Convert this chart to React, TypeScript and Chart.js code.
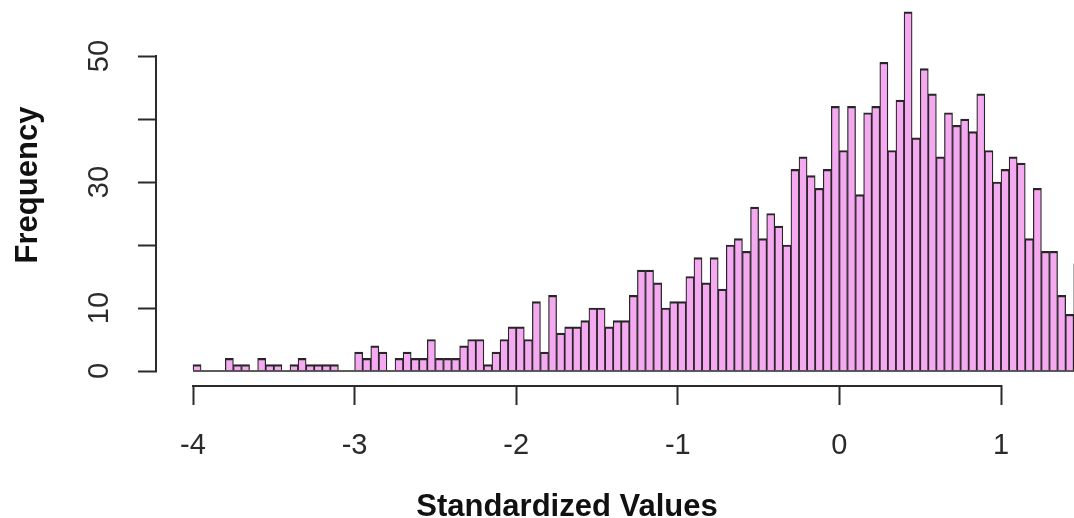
import React, { useEffect, useRef } from 'react';
import { Chart, registerables } from 'chart.js';

Chart.register(...registerables);

// Histogram bins: start, width and counts per bin
const binStart = -4;
const binWidth = 0.05;
const counts = [
  1, 0, 0, 0, 2, 1, 1, 0, 2, 1, 1, 0, 1, 2, 1, 1, 1, 1, 0, 0,
  3, 2, 4, 3, 0, 2, 3, 2, 2, 5, 2, 2, 2, 4, 5, 5, 1, 3, 5, 7,
  7, 5, 11, 3, 12, 6, 7, 7, 8, 10, 10, 7, 8, 8, 12, 16, 16, 14, 10, 11,
  11, 15, 18, 14, 18, 13, 20, 21, 19, 26, 21, 25, 23, 20, 32, 34, 31, 29, 32, 42,
  35, 42, 28, 41, 42, 49, 35, 43, 57, 37, 48, 44, 34, 41, 39, 40, 38, 44, 35, 30,
  32, 34, 33, 21, 29, 19, 19, 12, 9, 17,
];

const xTickValues = [-4, -3, -2, -1, 0, 1];
const yTickValues = [0, 10, 20, 30, 40, 50];
const yTickLabels = [0, 10, 30, 50];
const xTitle = 'Standardized Values';
const yTitle = 'Frequency';

const FONT = "'Liberation Sans', Arial, Helvetica, sans-serif";
const INK = '#2b2b2b';
const BAR_EDGE = '#262626';
const FILL = '#F5A9F1';

export default function App() {
  const ref = useRef<HTMLCanvasElement | null>(null);

  useEffect(() => {
    const canvas = ref.current;
    if (!canvas) return;
    const data = counts.map((c, i) => ({ x: binStart + binWidth * (i + 0.5), y: c }));

    const rAxes = {
      id: 'rAxes',
      afterDatasetsDraw(chart: any) {
        const { ctx, chartArea, scales } = chart;
        const x = scales.x;
        const y = scales.y;
        ctx.save();
        ctx.beginPath();
        ctx.rect(chartArea.left, chartArea.top, chartArea.right - chartArea.left, chartArea.bottom - chartArea.top);
        ctx.clip();
        ctx.strokeStyle = BAR_EDGE;
        ctx.lineWidth = 1.6;
        const y0 = y.getPixelForValue(0);
        ctx.beginPath();
        ctx.moveTo(x.getPixelForValue(binStart), y0);
        ctx.lineTo(chartArea.right, y0);
        ctx.stroke();
        ctx.restore();
      },
      afterDraw(chart: any) {
        const { ctx, chartArea, scales } = chart;
        const x = scales.x;
        const y = scales.y;
        ctx.save();
        ctx.strokeStyle = INK;
        ctx.lineWidth = 2;
        // x axis line (R style: only between first and last tick)
        ctx.beginPath();
        ctx.moveTo(x.getPixelForValue(xTickValues[0]) - 1, chartArea.bottom + 1);
        ctx.lineTo(x.getPixelForValue(xTickValues[xTickValues.length - 1]) + 1, chartArea.bottom + 1);
        ctx.stroke();
        // y axis line
        ctx.beginPath();
        ctx.moveTo(chartArea.left - 1, y.getPixelForValue(yTickValues[0]) + 1);
        ctx.lineTo(chartArea.left - 1, y.getPixelForValue(yTickValues[yTickValues.length - 1]) - 1);
        ctx.stroke();

        // axis titles
        ctx.fillStyle = '#111';
        ctx.font = `bold 31px ${FONT}`;
        ctx.textAlign = 'center';
        ctx.textBaseline = 'alphabetic';
        ctx.fillText(xTitle, 567, 516);
        ctx.translate(37, 185);
        ctx.rotate(-Math.PI / 2);
        ctx.fillText(yTitle, 0, 0);
        ctx.restore();
      },
    };

    const chart = new Chart(canvas, {
      type: 'bar',
      data: {
        datasets: [
          {
            data,
            backgroundColor: FILL,
            borderColor: BAR_EDGE,
            borderWidth: { top: 2.2, left: 1.25, right: 1.25, bottom: 0 },
            borderSkipped: 'start',
            barPercentage: 1,
            categoryPercentage: 1,
          } as any,
        ],
      },
      options: {
        responsive: false,
        maintainAspectRatio: false,
        devicePixelRatio: 1,
        animation: false,
        layout: { padding: 0 },
        plugins: {
          legend: { display: false },
          tooltip: { enabled: false },
          title: { display: false },
        },
        scales: {
          x: {
            type: 'linear',
            min: -4.2228,
            max: 1.4517,
            offset: false,
            grid: {
              display: true,
              drawOnChartArea: false,
              drawTicks: true,
              tickLength: 20,
              tickWidth: 2,
              tickColor: INK,
              color: INK,
              offset: false,
            },
            border: { display: false },
            ticks: {
              font: { family: FONT, size: 29 },
              color: INK,
              padding: 24,
              minRotation: 0,
              maxRotation: 0,
              autoSkip: false,
              callback: (v: any) => String(v),
            },
            afterBuildTicks: (s: any) => {
              s.ticks = xTickValues.map((v) => ({ value: v }));
            },
            afterFit: (s: any) => {
              s.height = 133;
              s.paddingLeft = 0;
              s.paddingRight = 0;
            },
          },
          y: {
            type: 'linear',
            min: -2.222,
            max: 58.89,
            grid: {
              display: true,
              drawOnChartArea: false,
              drawTicks: true,
              tickLength: 19,
              tickWidth: 2,
              tickColor: INK,
              color: INK,
            },
            border: { display: false },
            ticks: {
              font: { family: FONT, size: 29 },
              color: INK,
              padding: 22,
              minRotation: 90,
              maxRotation: 90,
              crossAlign: 'center',
              autoSkip: false,
              callback: (v: any) => (yTickLabels.includes(v) ? String(v) : ''),
            },
            afterBuildTicks: (s: any) => {
              s.ticks = yTickValues.map((v) => ({ value: v }));
            },
            afterFit: (s: any) => {
              s.width = 157;
              s.paddingTop = 0;
              s.paddingBottom = 0;
            },
          },
        },
      } as any,
      plugins: [rAxes],
    });

    return () => chart.destroy();
  }, []);

  return (
    <div style={{ position: 'fixed', left: 0, top: 0, width: 1074, height: 518, background: '#fff', overflow: 'hidden' }}>
      <canvas ref={ref} width={1074} height={518} style={{ display: 'block' }} />
    </div>
  );
}
